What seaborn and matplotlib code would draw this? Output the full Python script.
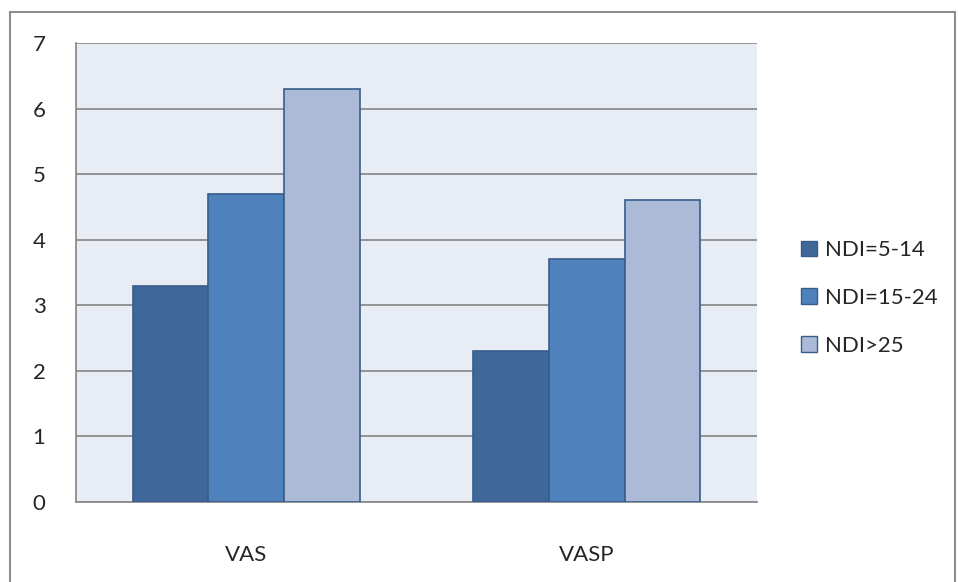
import matplotlib
matplotlib.use("Agg")
import matplotlib.pyplot as plt
from matplotlib.patches import Rectangle, Patch
import seaborn as sns
import pandas as pd

categories = ["VAS", "VASP"]
groups = ["NDI=5-14", "NDI=15-24", "NDI>25"]
values_5_14 = [3.3, 2.3]
values_15_24 = [4.7, 3.7]
values_25 = [6.3, 4.6]
y_ticks = [0, 1, 2, 3, 4, 5, 6, 7]

colors = ["#3F679A", "#4F81BD", "#AABAD7"]
edge = "#385D8A"

rows = []
for g, vals in zip(groups, [values_5_14, values_15_24, values_25]):
    for c, v in zip(categories, vals):
        rows.append({"category": c, "group": g, "value": v})
df = pd.DataFrame(rows)

sns.set_style("white")
plt.rcParams["font.family"] = ["Lato", "DejaVu Sans"]

W, H = 958, 582
fig = plt.figure(figsize=(W / 100, H / 100), dpi=100)
ax = fig.add_axes([76 / W, 1 - 502 / H, (757 - 76) / W, (502 - 43) / H])

sns.barplot(data=df, x="category", y="value", hue="group", order=categories,
            hue_order=groups, palette=colors, saturation=1, width=0.667, gap=0,
            edgecolor=edge, linewidth=1.2, legend=False, ax=ax, zorder=3)

ax.set_facecolor("#E8ECF4")
ax.set_ylim(0, 7)
ax.set_xlim(-0.5, 1.5)
ax.set_yticks(y_ticks)
ax.set_yticklabels([str(t) for t in y_ticks], fontsize=16)
ax.yaxis.grid(True, color="#8C8C8C", linewidth=1.3, zorder=0)
ax.set_axisbelow(True)

# category labels sit between boundary ticks
ax.set_xticks([0, 1])
ax.set_xticklabels(categories, fontsize=16)
ax.tick_params(axis="x", length=0, pad=31)
ax.set_xticks([-0.5, 0.5, 1.5], minor=True)
ax.tick_params(axis="x", which="minor", length=7, width=1.2, color="#8C8C8C", direction="out")
ax.tick_params(axis="y", length=7, width=1.2, color="#8C8C8C", direction="out", pad=15)
ax.set_xlabel("")
ax.set_ylabel("")

for side in ["top", "right"]:
    ax.spines[side].set_visible(False)
for side in ["left", "bottom"]:
    ax.spines[side].set_color("#8C8C8C")
    ax.spines[side].set_linewidth(1.3)

handles = [Patch(facecolor=c, edgecolor=edge, linewidth=1.0) for c in colors]
fig.legend(handles, groups, loc="center left", bbox_to_anchor=(781 / W, 1 - 298 / H),
           frameon=False, fontsize=16, handlelength=0.7, handleheight=0.7,
           handletextpad=0.4, labelspacing=1.25)

# outer chart frame
fig.patches.append(Rectangle((10 / W, -0.01), (955 - 10) / W, 1 - 12 / H + 0.01,
                             transform=fig.transFigure, fill=False,
                             edgecolor="#8C8C8C", linewidth=1.5))

fig.savefig("out.png", dpi=100)
